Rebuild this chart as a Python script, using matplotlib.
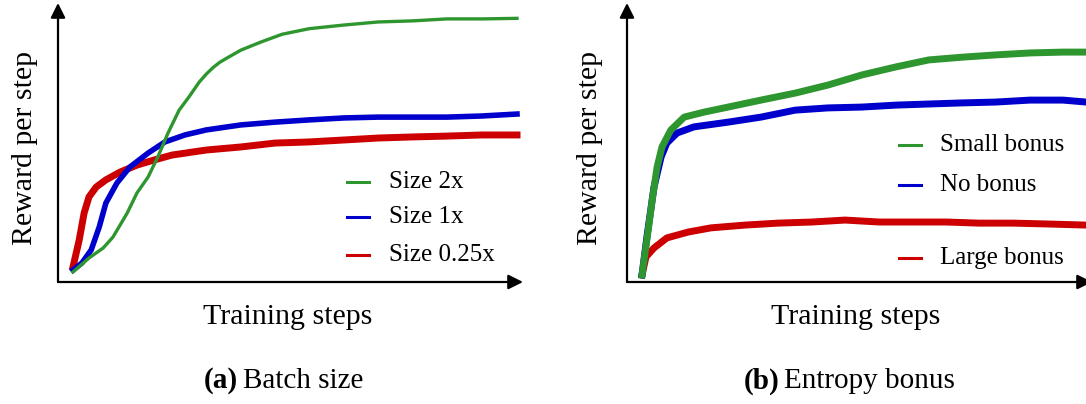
import matplotlib.pyplot as plt
from matplotlib.lines import Line2D

plt.rcParams['font.family'] = ['Liberation Serif', 'DejaVu Serif']

# =============================================================================
# Data (x: training progress 0-100, y: reward, arbitrary units)
# =============================================================================
# (a) Batch size
a_green_x = [0, 3.6, 6.8, 9.0, 12.2, 14.4, 16.9, 19.1, 21.4, 23.9, 26.1, 28.4, 30.0, 31.5,
             33.0, 34.7, 37.8, 42.3, 47.1, 53.2, 61.0, 68.7, 76.6, 84.2, 92.1, 100]
a_green_y = [3.6, 8.6, 12.2, 16.1, 24.7, 31.9, 37.6, 44.8, 53.4, 61.6, 66.3, 71.6, 74.5, 76.8,
             78.7, 80.3, 83.1, 86.0, 88.8, 90.8, 92.1, 93.2, 93.6, 94.3, 94.3, 94.5]
a_blue_x = [0, 2.0, 4.1, 5.9, 7.4, 9.9, 12.8, 16.9, 20.7, 25.2, 30.0, 37.8, 45.5,
            53.2, 61.0, 68.7, 76.6, 84.2, 92.1, 100]
a_blue_y = [4.3, 6.8, 11.5, 19.7, 28.3, 35.5, 41.2, 46.2, 50.2, 52.7, 54.5, 56.3, 57.3,
            58.1, 58.8, 59.1, 59.1, 59.1, 59.5, 60.2]
a_red_x = [0, 1.4, 2.5, 3.6, 5.2, 7.4, 10.6, 14.4, 18.2, 22.3, 30.0, 37.8, 45.5,
           53.2, 61.0, 68.7, 76.6, 84.2, 92.1, 100]
a_red_y = [5.4, 15.1, 24.7, 30.5, 34.0, 36.6, 39.4, 41.9, 43.7, 45.5, 47.3, 48.4, 49.8,
           50.2, 50.9, 51.6, 52.0, 52.3, 52.7, 52.7]
a_labels = ['Size 2x', 'Size 1x', 'Size 0.25x']

# (b) Entropy bonus
b_green_x = [0, 1.1, 2.3, 3.4, 4.5, 6.5, 9.5, 14.0, 19.4, 26.8, 34.5, 41.9, 49.5,
             57.2, 64.6, 72.3, 79.7, 87.4, 94.8, 100]
b_green_y = [2.5, 15.1, 29.4, 41.2, 48.4, 54.5, 59.1, 60.9, 62.7, 65.2, 67.7, 70.6, 74.2,
             77.1, 79.6, 80.6, 81.4, 82.1, 82.4, 82.4]
b_blue_x = [0, 1.1, 2.7, 4.3, 5.6, 7.9, 11.7, 19.4, 26.8, 34.5, 41.9, 49.5, 57.2,
            64.6, 72.3, 79.7, 87.4, 94.8, 100]
b_blue_y = [2.5, 16.1, 34.0, 44.8, 49.8, 53.4, 55.6, 57.3, 59.1, 61.6, 62.4, 62.7, 63.4,
            63.8, 64.2, 64.5, 65.2, 65.2, 64.5]
b_red_x = [0, 0.9, 2.7, 5.6, 10.4, 15.5, 23.2, 30.6, 38.3, 45.7, 53.4, 60.8, 68.5,
           75.9, 83.6, 91.2, 100]
b_red_y = [2.5, 9.0, 12.2, 15.8, 17.9, 19.4, 20.4, 21.1, 21.5, 22.2, 21.5, 21.5, 21.5,
           21.1, 21.1, 20.8, 20.4]
b_labels = ['Small bonus', 'No bonus', 'Large bonus']

GREEN = '#2e962e'
BLUE = '#0000cc'
RED = '#cc0000'

W, H = 1086, 404
fig = plt.figure(figsize=(W / 100, H / 100), dpi=100)


def fx(px):
    return px / W


def fy(py):
    return 1 - py / H


def make_axes(left_px):
    ax = fig.add_axes([fx(left_px), fy(282), 465 / W, 279 / H])
    ax.set_xlim(-3.38, 101.35)
    ax.set_ylim(0, 100)
    for s in ax.spines.values():
        s.set_visible(False)
    ax.set_xticks([])
    ax.set_yticks([])
    ax.patch.set_alpha(0)
    arrow = dict(arrowstyle='-|>', lw=1.6, color='black', mutation_scale=22,
                 shrinkA=0, shrinkB=0)
    ax.annotate('', xy=(1, 0), xytext=(0, 0), xycoords='axes fraction', arrowprops=arrow)
    ax.annotate('', xy=(0, 1), xytext=(0, 0), xycoords='axes fraction', arrowprops=arrow)
    return ax


def legend_row(x_line, x_text, py, color, label):
    fig.add_artist(Line2D([fx(x_line), fx(x_line + 22)], [fy(py), fy(py)],
                          color=color, lw=2.2, transform=fig.transFigure))
    fig.text(fx(x_text), fy(py), label, fontsize=18, va='center', ha='left')


def caption(x_px, tag, text, gap):
    fig.text(fx(x_px), fy(381), tag, fontsize=21, fontweight='bold', ha='left', va='center')
    fig.text(fx(x_px + gap), fy(381), text, fontsize=21, ha='left', va='center')


# =============================================================================
# Panel (a)
# =============================================================================
ax1 = make_axes(58)
ax1.plot(a_red_x, a_red_y, color=RED, lw=5, solid_joinstyle='round')
ax1.plot(a_blue_x, a_blue_y, color=BLUE, lw=4, solid_joinstyle='round')
ax1.plot(a_green_x, a_green_y, color=GREEN, lw=2.4, solid_joinstyle='round')
fig.text(fx(25), fy(148), 'Reward per step', rotation=90, fontsize=21.5,
         ha='center', va='center')
fig.text(fx(288), fy(317), 'Training steps', fontsize=21.5, ha='center', va='center')
for py, c, lab in zip([182, 217, 255], [GREEN, BLUE, RED], a_labels):
    legend_row(347, 389, py, c, lab)
caption(204, '(a)', 'Batch size', 39)

# =============================================================================
# Panel (b)
# =============================================================================
ax2 = make_axes(627)
ax2.plot(b_red_x, b_red_y, color=RED, lw=5, solid_joinstyle='round')
ax2.plot(b_blue_x, b_blue_y, color=BLUE, lw=5, solid_joinstyle='round')
ax2.plot(b_green_x, b_green_y, color=GREEN, lw=5, solid_joinstyle='round')
fig.text(fx(590), fy(148), 'Reward per step', rotation=90, fontsize=21.5,
         ha='center', va='center')
fig.text(fx(856), fy(317), 'Training steps', fontsize=21.5, ha='center', va='center')
for py, c, lab in zip([145, 185, 258], [GREEN, BLUE, RED], b_labels):
    legend_row(899, 940, py, c, lab)
caption(744, '(b)', 'Entropy bonus', 40)

plt.savefig('out.png', dpi=100)
